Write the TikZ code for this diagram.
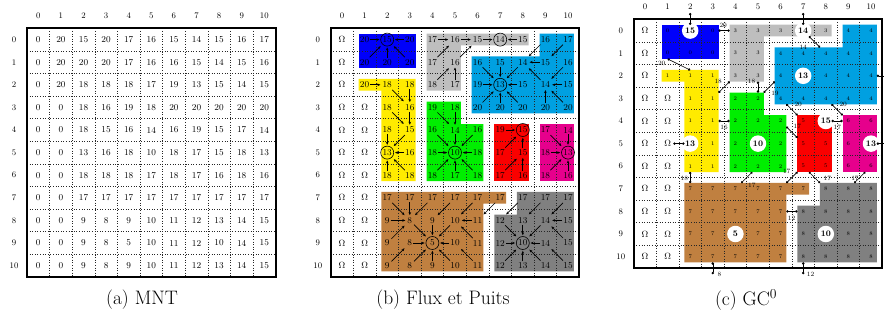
\documentclass[tikz,border=0pt]{standalone}
\usepackage{fix-cm}
\usepackage{fontspec}
\usetikzlibrary{arrows.meta}

% region colours
\definecolor{rgBlue}{RGB}{0,0,250}
\definecolor{rgGrayL}{RGB}{190,190,190}
\definecolor{rgCyan}{RGB}{0,160,225}
\definecolor{rgYellow}{RGB}{255,235,0}
\definecolor{rgGreen}{RGB}{0,238,0}
\definecolor{rgRed}{RGB}{250,0,0}
\definecolor{rgMagenta}{RGB}{230,0,140}
\definecolor{rgBrown}{RGB}{192,128,64}
\definecolor{rgGrayD}{RGB}{128,128,128}

\DeclareRobustCommand\OM{$\Omega$}
\DeclareRobustCommand\OMc{{\fontsize{9}{10}\selectfont$\Omega$}}

% sink cells (row, column)
\newcommand\defsink[2]{\expandafter\def\csname snk-#1-#2\endcsname{}}
\defsink{0}{2}\defsink{0}{7}\defsink{2}{7}\defsink{5}{2}\defsink{5}{5}
\defsink{4}{8}\defsink{5}{10}\defsink{9}{4}\defsink{9}{8}

% inset of a region from its cell borders (cell units)
\def\rgin{0.24}

\newcommand\regions{%
  \fill[rgBlue] (1+\rgin,\rgin) rectangle (4-\rgin,2-\rgin);
  \fill[rgGrayL] (4+\rgin,\rgin) -- (9-\rgin,\rgin) -- (9-\rgin,1-\rgin) -- (6-\rgin,1-\rgin)
     -- (6-\rgin,3-\rgin) -- (4+\rgin,3-\rgin) -- cycle;
  \fill[rgCyan] (9+\rgin,\rgin) -- (11-\rgin,\rgin) -- (11-\rgin,4-\rgin) -- (6+\rgin,4-\rgin)
     -- (6+\rgin,1+\rgin) -- (9+\rgin,1+\rgin) -- cycle;
  \fill[rgYellow] (1+\rgin,2+\rgin) -- (4-\rgin,2+\rgin) -- (4-\rgin,7-\rgin) -- (2+\rgin,7-\rgin)
     -- (2+\rgin,3-\rgin) -- (1+\rgin,3-\rgin) -- cycle;
  \fill[rgGreen] (4+\rgin,3+\rgin) -- (6-\rgin,3+\rgin) -- (6-\rgin,4+\rgin) -- (7-\rgin,4+\rgin)
     -- (7-\rgin,7-\rgin) -- (4+\rgin,7-\rgin) -- cycle;
  \fill[rgRed] (7+\rgin,4+\rgin) rectangle (9-\rgin,7-\rgin);
  \fill[rgMagenta] (9+\rgin,4+\rgin) rectangle (11-\rgin,7-\rgin);
  \fill[rgBrown] (2+\rgin,7+\rgin) -- (8-\rgin,7+\rgin) -- (8-\rgin,8-\rgin) -- (7-\rgin,8-\rgin)
     -- (7-\rgin,11-\rgin) -- (2+\rgin,11-\rgin) -- cycle;
  \fill[rgGrayD] (8+\rgin,7+\rgin) -- (11-\rgin,7+\rgin) -- (11-\rgin,11-\rgin) -- (7+\rgin,11-\rgin)
     -- (7+\rgin,8+\rgin) -- (8+\rgin,8+\rgin) -- cycle;
}

\newcommand\gridlines{%
  \foreach \kk in {1,...,10} {
    \draw[gridline] (\kk,0) -- (\kk,11);
    \draw[gridline] (0,\kk) -- (11,\kk);
  }
  \draw[gridframe] (0,0) rectangle (11,11);
}

\newcommand\axislabels[1]{%
  \foreach \kk in {0,...,10} {
    \node[axlbl] (#1-col\kk) at (\kk+0.5,-0.57) {\kk};
    \node[axlbl] (#1-row\kk) at (-0.57,\kk+0.5) {\kk};
  }
}

\def\mntvals{{0,20,15,20,17,16,15,14,15,16,17},{0,20,20,20,17,16,16,15,14,15,16},
{0,20,18,18,18,17,19,13,15,14,15},{0,0,18,16,19,18,20,20,20,20,20},
{0,0,18,15,16,14,16,19,15,17,14},{0,0,13,16,18,10,18,17,15,18,13},
{0,0,18,18,18,17,18,17,16,18,16},{0,0,17,17,17,17,17,17,17,17,17},
{0,0,9,8,9,10,11,12,13,14,15},{0,0,9,8,5,10,11,12,10,14,15},
{0,0,9,8,9,10,11,12,13,14,15}}

\def\fluxvals{{\OM,20,15,20,17,16,15,14,15,16,17},{\OM,20,20,20,17,16,16,15,14,15,16},
{\OM,20,18,18,18,17,19,13,15,14,15},{\OM,\OM,18,16,19,18,20,20,20,20,20},
{\OM,\OM,18,15,16,14,16,19,15,17,14},{\OM,\OM,13,16,18,10,18,17,15,18,13},
{\OM,\OM,18,18,18,17,18,17,16,18,16},{\OM,\OM,17,17,17,17,17,17,17,17,17},
{\OM,\OM,9,8,9,10,11,12,13,14,15},{\OM,\OM,9,8,5,10,11,12,10,14,15},
{\OM,\OM,9,8,9,10,11,12,13,14,15}}

\def\gcvals{{\OMc,0,15,0,3,3,3,14,3,4,4},{\OMc,0,0,0,3,3,4,4,4,4,4},
{\OMc,1,1,1,3,3,4,13,4,4,4},{\OMc,\OMc,1,1,2,2,4,4,4,4,4},
{\OMc,\OMc,1,1,2,2,2,5,15,6,6},{\OMc,\OMc,13,1,2,10,2,5,5,6,13},
{\OMc,\OMc,1,1,2,2,2,5,5,6,6},{\OMc,\OMc,7,7,7,7,7,7,8,8,8},
{\OMc,\OMc,7,7,7,7,7,8,8,8,8},{\OMc,\OMc,7,7,5,7,7,8,10,8,8},
{\OMc,\OMc,7,7,7,7,7,8,8,8,8}}

\tikzset{
  gridline/.style={dotted, line width=0.6pt, black!85},
  gridframe/.style={line width=1.8pt, black},
  val/.style={font=\fontsize{9}{10}\selectfont, inner sep=1pt},
  axlbl/.style={font=\fontsize{8.5}{10}\selectfont, inner sep=0pt},
  sinkb/.style={circle, draw, line width=0.6pt, inner sep=0pt, minimum size=13pt},
  cellc/.style={font=\fontsize{5.5}{6}\selectfont, inner sep=0pt, minimum size=11pt},
  sinkc/.style={circle, fill=white, inner sep=0pt, minimum size=16.5pt,
                font=\bfseries\fontsize{8.5}{10}\selectfont},
  flowarrow/.style={line width=0.65pt, -{Stealth[length=3pt,width=2.6pt]}},
  gcedge/.style={line width=0.6pt, arrows={Circle[length=2.4pt]-Circle[length=2.4pt]}},
  elbl/.style={font=\fontsize{6.5}{7}\selectfont, inner sep=0pt},
  caption/.style={font=\fontsize{19.5}{22}\selectfont}
}

\begin{document}
\begin{tikzpicture}[x=1pt,y=-1pt]
\useasboundingbox (0,0) rectangle (884,325);

% ---------- (a) elevation model ----------
\begin{scope}[xshift=27pt,yshift=-28.3pt,x=22.6pt,y=-22.6pt]
  \gridlines
  \axislabels{a}
  \foreach \row [count=\ri from 0] in \mntvals {
    \foreach \v [count=\ci from 0] in \row {
      \node[val] (a-\ri-\ci) at (\ci+0.5,\ri+0.5) {\v};
    }
  }
\end{scope}

% ---------- (b) flow directions and sinks ----------
\begin{scope}[xshift=330.7pt,yshift=-28.3pt,x=22.6pt,y=-22.6pt]
  \regions
  \gridlines
  \axislabels{b}
  \foreach \row [count=\ri from 0] in \fluxvals {
    \foreach \v [count=\ci from 0] in \row {
      \ifcsname snk-\ri-\ci\endcsname
        \node[val,sinkb] (b-\ri-\ci) at (\ci+0.5,\ri+0.5) {\v};
      \else
        \node[val] (b-\ri-\ci) at (\ci+0.5,\ri+0.5) {\v};
      \fi
    }
  }
  % flows to a horizontal or vertical neighbour
  \foreach \src/\tgt in {0-1/0-2, 0-3/0-2, 1-2/0-2,
      0-4/0-5, 0-5/0-6, 0-6/0-7, 0-8/0-7, 2-5/1-5,
      1-7/2-7, 1-9/1-8, 2-6/2-7, 2-8/2-7, 2-10/2-9, 3-7/2-7, 3-9/2-9,
      2-1/2-2, 2-3/3-3, 3-3/4-3, 4-2/5-2, 5-3/5-2, 6-2/5-2,
      3-5/4-5, 4-5/5-5, 5-4/5-5, 5-6/5-5, 6-5/5-5,
      4-7/4-8, 5-8/4-8, 6-8/5-8,
      4-10/5-10, 5-9/5-10, 6-10/5-10,
      7-3/8-3, 8-2/8-3, 8-4/9-4, 8-6/8-5, 9-3/9-4, 9-5/9-4, 10-4/9-4,
      8-8/9-8, 8-10/8-9, 9-7/9-8, 9-9/9-8, 10-8/9-8}
    \draw[flowarrow, shorten >=1pt] (b-\src) -- (b-\tgt);
  % flows to a diagonal neighbour
  \foreach \src/\tgt in {1-1/0-2, 1-3/0-2,
      1-4/0-5, 2-4/1-5, 1-5/0-6,
      0-9/1-8, 0-10/1-9, 1-6/2-7, 1-8/2-7, 1-10/2-9, 2-9/1-8, 3-6/2-7, 3-8/2-7, 3-10/2-9,
      2-2/3-3, 3-2/4-3, 4-3/5-2, 6-3/5-2,
      3-4/4-5, 4-4/5-5, 4-6/5-5, 6-4/5-5, 6-6/5-5,
      5-7/4-8, 6-7/5-8,
      4-9/5-10, 6-9/5-10,
      7-2/8-3, 7-4/8-3, 7-5/8-4, 7-6/8-5, 7-7/8-6, 8-3/9-4, 8-5/9-4, 9-2/8-3,
      9-6/8-5, 10-2/9-3, 10-3/9-4, 10-5/9-4, 10-6/9-5,
      7-8/8-7, 7-9/8-8, 7-10/8-9, 8-7/9-8, 8-9/9-8, 9-10/8-9, 10-7/9-8, 10-9/9-8, 10-10/9-9}
    \draw[flowarrow, shorten <=1pt, shorten >=2.5pt] (b-\src) -- (b-\tgt);
\end{scope}

% ---------- (c) basin graph ----------
\begin{scope}[xshift=633.7pt,yshift=-19.3pt,x=22.6pt,y=-22.6pt]
  \regions
  \gridlines
  \axislabels{c}
  \foreach \row [count=\ri from 0] in \gcvals {
    \foreach \v [count=\ci from 0] in \row {
      \ifcsname snk-\ri-\ci\endcsname
        \node[sinkc] (c-\ri-\ci-s) at (\ci+0.5,\ri+0.5) {\v};
        \node[cellc] (c-\ri-\ci) at (\ci+0.5,\ri+0.5) {};
      \else
        \node[cellc] (c-\ri-\ci) at (\ci+0.5,\ri+0.5) {\v};
      \fi
    }
  }
  % outlets beyond the border
  \coordinate (c-top2) at (2.5,-0.28);
  \coordinate (c-top7) at (7.5,-0.28);
  \coordinate (c-bot3) at (3.5,11.28);
  \coordinate (c-bot7) at (7.5,11.28);
  \coordinate (c-rt2) at (11.25,2.5);
  \coordinate (c-rt5) at (11.25,5.5);

  \draw[gcedge] (c-0-2) -- (c-top2);
  \draw[gcedge] (c-0-3) -- (c-0-4) node[elbl] (c-l1) at (3.96,0.25) {20};
  \draw[gcedge] (c-1-1.south) -- (c-2-2.north) node[elbl] (c-l2) at (1.24,1.95) {20};
  \draw[gcedge] (c-2-4) -- (c-3-3) node[elbl] (c-l3) at (3.74,2.76) {18};
  \draw[gcedge] (c-4-3) -- (c-4-4) node[elbl] (c-l4) at (4.0,4.78) {16};
  \draw[gcedge] (c-5-1) -- (c-5-2);
  \draw[gcedge] (c-6-2) -- (c-7-2) node[elbl] (c-l5) at (2.24,7.04) {18};
  \draw[gcedge] (c-10-3) -- (c-bot3) node[elbl] (c-l6) at (3.8,11.28) {8};
  \draw[gcedge] (c-0-7) -- (c-top7);
  \draw[gcedge] (c-0-7) -- (c-1-8) node[elbl] (c-l7) at (7.5,1.26) {14};
  \draw[gcedge] (c-2-5) -- (c-3-5) node[elbl] (c-l8) at (5.22,2.73) {18};
  \draw[gcedge] (c-2-6) -- (c-3-5) node[elbl] (c-l9) at (6.25,3.27) {19};
  \draw[gcedge] (c-3-6) -- (c-4-7) node[elbl] (c-l10) at (7.28,3.76) {20};
  \draw[gcedge] (c-3-8) -- (c-4-9) node[elbl] (c-l11) at (9.27,3.76) {20};
  \draw[gcedge] (c-4-8) -- (c-4-9) node[elbl] (c-l12) at (9.01,4.78) {17};
  \draw[gcedge] (c-4-6) -- (c-5-7) node[elbl] (c-l13) at (7.24,4.75) {17};
  \draw[gcedge] (c-2-10) -- (c-rt2);
  \draw[gcedge] (c-5-10) -- (c-rt5);
  \draw[gcedge] (c-6-5) -- (c-7-4) node[elbl] (c-l14) at (5.23,7.33) {17};
  \draw[gcedge] (c-6-7) -- (c-7-6) node[elbl] (c-l15) at (6.77,6.74) {17};
  \draw[gcedge] (c-6-7) -- (c-7-8) node[elbl] (c-l16) at (8.57,7.04) {17};
  \draw[gcedge] (c-6-10) -- (c-7-9) node[elbl] (c-l17) at (9.79,7.04) {17};
  \draw[gcedge] (c-8-6) -- (c-8-7) node[elbl] (c-l18) at (6.99,8.81) {12};
  \draw[gcedge] (c-10-7) -- (c-bot7) node[elbl] (c-l19) at (7.83,11.28) {12};
\end{scope}

% ---------- captions ----------
\node[caption] (cap-a) at (142,300) {(a) MNT};
\node[caption] (cap-b) at (443,300) {(b) Flux et Puits};
\node[caption] (cap-c) at (746,300) {(c) GC$^0$};
\end{tikzpicture}
\end{document}
